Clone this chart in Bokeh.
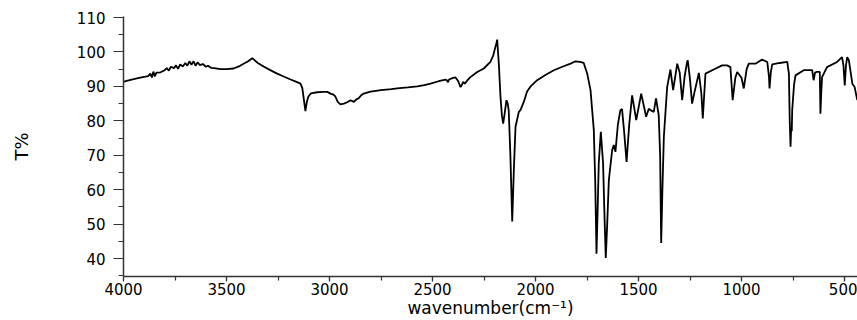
from bokeh.plotting import figure
from bokeh.models import Range1d, SingleIntervalTicker
from bokeh.embed import file_html
from bokeh.resources import INLINE

# IR spectrum (wavenumber in cm^-1, transmittance in %)
wavenumber = [4000, 3990, 3960, 3930, 3900, 3880, 3870, 3862, 3855, 3848, 3840, 3820, 3800, 3790,
              3780, 3770, 3755, 3745, 3735, 3725, 3712, 3700, 3690, 3680, 3670, 3660, 3650, 3640,
              3630, 3615, 3600, 3590, 3575, 3560, 3530, 3500, 3466, 3440, 3417, 3395, 3375, 3350,
              3320, 3290, 3254, 3220, 3189, 3160, 3141, 3132, 3124, 3117, 3110, 3103, 3090, 3060,
              3030, 3011, 2995, 2981, 2971, 2960, 2947, 2930, 2914, 2898, 2882, 2870, 2858, 2845,
              2834, 2801, 2750, 2700, 2671, 2620, 2574, 2540, 2510, 2470, 2437, 2430, 2426, 2420,
              2400, 2388, 2375, 2364, 2357, 2351, 2343, 2330, 2316, 2283, 2251, 2219, 2205, 2199,
              2190, 2186, 2182, 2178, 2170, 2163, 2157, 2150, 2141, 2135, 2130, 2122, 2113, 2105,
              2097, 2081, 2073, 2057, 2041, 2024, 1992, 1950, 1911, 1870, 1830, 1806, 1785, 1766,
              1749, 1733, 1717, 1710, 1704, 1698, 1693, 1683, 1672, 1665, 1659, 1652, 1644, 1628,
              1620, 1612, 1600, 1588, 1580, 1570, 1558, 1545, 1531, 1511, 1487, 1463, 1450, 1442,
              1426, 1415, 1402, 1395, 1390, 1384, 1377, 1361, 1345, 1332, 1312, 1300, 1288, 1276,
              1264, 1261, 1250, 1240, 1228, 1207, 1195, 1188, 1175, 1135, 1094, 1070, 1054, 1043,
              1030, 1021, 1000, 989, 975, 965, 932, 900, 875, 867, 864, 858, 851, 815,
              778, 770, 766, 762, 759, 756, 754, 745, 738, 698, 657, 650, 643, 636,
              620, 617, 613, 609, 585, 536, 512, 505, 499, 493, 487, 479, 462, 451, 438]

transmittance = [91.4, 91.5, 92.0, 92.4, 92.8, 93.0, 93.7, 92.6, 94.3, 92.9, 94.0, 94.1, 94.7, 95.3,
                 94.6, 95.7, 95.3, 96.1, 95.1, 96.4, 95.8, 96.8, 96.0, 97.3, 96.3, 97.3, 96.0, 97.0,
                 96.2, 96.5, 95.7, 96.0, 95.4, 95.3, 95.0, 95.0, 95.2, 95.8, 96.6, 97.3, 98.2, 96.9,
                 95.8, 94.8, 93.7, 92.8, 92.0, 91.3, 90.8, 89.5, 86.0, 82.8, 85.5, 87.0, 88.0, 88.3,
                 88.4, 88.4, 87.9, 87.6, 87.0, 85.5, 84.8, 85.0, 85.4, 86.0, 85.5, 86.2, 86.6, 87.5,
                 87.9, 88.5, 88.9, 89.2, 89.4, 89.7, 90.0, 90.4, 90.8, 91.5, 92.0, 91.8, 91.2, 92.0,
                 92.5, 92.6, 91.5, 89.8, 90.5, 91.3, 90.8, 91.8, 92.7, 94.2, 95.2, 97.1, 99.0, 100.5,
                 102.5, 103.6, 100.0, 96.5, 87.0, 81.5, 79.2, 82.0, 86.0, 85.0, 83.0, 70.0, 50.8, 66.0,
                 78.3, 82.6, 83.1, 85.5, 88.5, 90.0, 91.8, 93.4, 94.7, 95.7, 96.6, 97.3, 97.1, 96.8,
                 93.7, 88.9, 77.3, 62.0, 41.4, 55.0, 67.7, 76.8, 67.7, 52.0, 40.2, 50.0, 62.8, 71.5,
                 73.0, 71.0, 79.0, 83.1, 83.4, 77.0, 68.1, 79.0, 87.4, 80.2, 87.9, 81.2, 83.5, 83.1,
                 82.6, 86.5, 81.7, 70.0, 44.5, 60.0, 75.4, 89.8, 94.9, 88.9, 96.6, 94.0, 86.0, 93.0,
                 97.1, 97.6, 92.0, 85.0, 88.4, 93.9, 88.0, 80.7, 93.7, 94.9, 96.1, 96.1, 95.6, 86.0,
                 92.5, 94.2, 92.5, 89.4, 95.0, 96.6, 96.6, 97.8, 97.1, 93.0, 89.4, 94.0, 96.4, 96.8,
                 97.1, 93.7, 80.0, 72.5, 78.0, 77.0, 83.1, 90.5, 93.2, 94.7, 94.7, 91.8, 94.0, 94.2,
                 94.2, 82.1, 88.0, 92.7, 95.6, 97.1, 98.5, 96.0, 90.3, 96.0, 98.5, 97.6, 90.8, 89.8, 86.0]

x_label = "wavenumber(cm⁻¹)"
y_label = "T%"

p = figure(width=857, height=320,
           x_range=Range1d(4000, 437), y_range=Range1d(34.8, 110.3),
           output_backend="svg", toolbar_location=None,
           min_border_left=123, min_border_right=0, min_border_top=16, min_border_bottom=43)
p.outline_line_color = None
p.xgrid.visible = False
p.ygrid.visible = False
p.background_fill_color = "white"
p.border_fill_color = "white"

p.line(wavenumber, transmittance, line_color="black", line_width=1.8)

font = "DejaVu Sans"
for ax in (p.xaxis[0], p.yaxis[0]):
    ax.axis_line_color = "#333333"
    ax.axis_line_width = 1.5
    ax.major_tick_line_color = "#333333"
    ax.minor_tick_line_color = "#333333"
    ax.major_tick_line_width = 1.2
    ax.minor_tick_line_width = 1.2
    ax.major_tick_in = 0
    ax.minor_tick_in = 0
    ax.major_label_text_font = font
    ax.major_label_text_color = "black"
    ax.major_label_text_font_size = "15px"
    ax.axis_label_text_font = font
    ax.axis_label_text_font_style = "normal"
    ax.axis_label_text_color = "black"

p.xaxis.ticker = SingleIntervalTicker(interval=500, num_minor_ticks=2)
p.yaxis.ticker = SingleIntervalTicker(interval=10, num_minor_ticks=2)

p.xaxis.major_tick_out = 5
p.xaxis.minor_tick_out = 4
p.xaxis.major_label_standoff = 1
p.xaxis.axis_label = x_label
p.xaxis.axis_label_text_font_size = "17px"
p.xaxis.axis_label_standoff = 0

p.yaxis.major_tick_out = 10
p.yaxis.minor_tick_out = 5
p.yaxis.major_label_standoff = 8
p.yaxis.axis_label = y_label
p.yaxis.axis_label_text_font_size = "18px"
p.yaxis.axis_label_standoff = 42

open("out.html", "w").write(file_html(p, INLINE))
